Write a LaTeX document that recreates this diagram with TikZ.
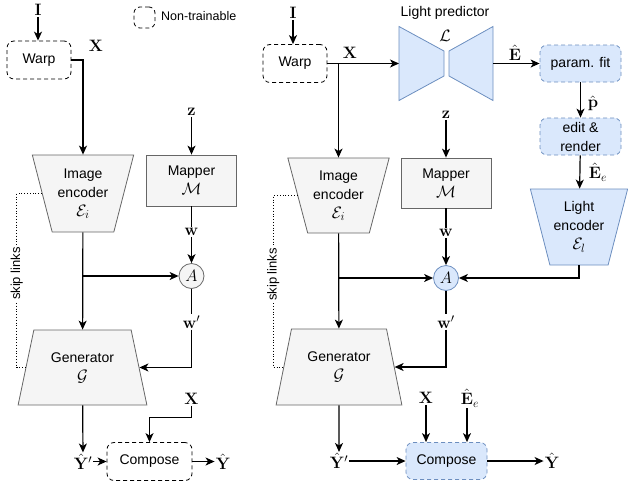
\RequirePackage{fix-cm}
\documentclass[tikz,border=0pt]{standalone}
\usepackage{amsmath, amssymb}
\usepackage[no-math]{fontspec}
\setmainfont{Liberation Sans}
\usepackage{xcolor}
\usepackage{tikz}
\usetikzlibrary{arrows.meta, shapes.geometric}
\DeclareMathSizes{14}{16.5}{12}{10}

\definecolor{grayfill}{HTML}{F5F5F5}
\definecolor{grayline}{HTML}{666666}
\definecolor{bluefill}{HTML}{DAE8FC}
\definecolor{blueline}{HTML}{6C8EBF}

\tikzset{
  lab/.style={font=\fontsize{14}{19}\selectfont, inner sep=1pt},
  fixbox/.style={lab, draw, dash pattern=on 4pt off 3pt, rounded corners=7pt, line width=0.8pt,
    minimum width=64pt, minimum height=38pt, align=center},
  learnbox/.style={fixbox, draw=blueline, fill=bluefill, minimum width=81pt, minimum height=37pt},
  mapbox/.style={lab, draw=grayline, fill=grayfill, line width=0.8pt,
    minimum width=90pt, minimum height=51pt, align=center},
  enctrap/.style={lab, trapezium, trapezium stretches=true, shape border rotate=180,
    trapezium angle=72, minimum width=102pt, minimum height=77pt,
    draw=grayline, fill=grayfill, line width=0.8pt, align=center},
  gentrap/.style={enctrap, shape border rotate=0, minimum width=129pt, minimum height=75pt},
  lpshape/.style={draw=blueline, fill=bluefill, line width=0.8pt},
  adapt/.style={lab, circle, draw=grayline, fill=grayfill, minimum size=25pt,
    inner sep=0pt, line width=0.8pt},
  wire/.style={line width=1.2pt},
  flow/.style={wire, ->},
  skiplink/.style={dotted, line width=0.8pt},
}

\begin{document}
\begin{tikzpicture}[x=1pt, y=-1pt, >={Stealth[length=9pt, width=8pt, inset=2.5pt]}]
    \useasboundingbox (0,0) rectangle (628,482);

    % 1. 左图: 节点
    \node[lab] (i1) at (38,10) {$\mathbf{I}$};
    \node[fixbox] (warp1) at (39,60) {Warp};
    \node[lab] (x1) at (96,46) {$\mathbf{X}$};
    \node[fixbox, minimum width=21pt, minimum height=21pt, rounded corners=6pt] (leg) at (144.5,17.5) {};
    \node[lab, font=\fontsize{12.5}{15}\selectfont, anchor=west] (legtext) at (160,16) {Non-trainable};
    \node[enctrap] (enc1) at (83,193.5) {Image\\encoder\\$\mathcal{E}_i$};
    \node[lab] (z1) at (191.5,112) {$\mathbf{z}$};
    \node[mapbox] (map1) at (191.5,180.5) {Mapper\\$\mathcal{M}$};
    \node[lab] (w1) at (191.5,232) {$\mathbf{w}$};
    \node[adapt] (a1) at (191.5,276) {$A$};
    \node[lab] (wp1) at (191.5,322) {$\mathbf{w}'$};
    \node[gentrap] (gen1) at (82.5,367.5) {Generator\\$\mathcal{G}$};
    \node[lab] (x2) at (191.5,399) {$\mathbf{X}$};
    \node[lab] (yp1) at (83,461.5) {$\hat{\mathbf{Y}}'$};
    \node[fixbox, minimum width=85pt] (comp1) at (149.5,461.5) {Compose};
    \node[lab] (y1) at (223,461.5) {$\hat{\mathbf{Y}}$};

    % 2. 左图: 连线
    \draw[flow] (i1) -- (i1 |- warp1.north);
    \draw[flow] (warp1.east) -| (enc1.north);
    \draw[flow] (z1) -- (map1);
    \draw[wire] (map1) -- (w1);
    \draw[flow] (w1) -- (a1);
    \draw[flow] (enc1) -- (gen1);
    \draw[flow] (enc1.south |- a1) -- (a1);
    \draw[wire] (a1) -- (wp1);
    \draw[flow] (wp1) |- (gen1.east);
    \draw[skiplink] (enc1.west) -- ++(-25,0) |- (gen1.west)
        node[pos=0.23, rotate=90, fill=white, font=\fontsize{13}{15}\selectfont, inner sep=1pt] {skip links};
    \draw[flow] (gen1) -- (yp1);
    \draw[flow] (yp1) -- (comp1);
    \draw[flow] (comp1) -- (y1);
    \draw[flow] (x2.south) -- ++(0,12) -| (comp1.north);

    % 3. 右图: 节点
    \node[lab] (i2) at (293,13) {$\mathbf{I}$};
    \node[fixbox] (warp2) at (295,63.5) {Warp};
    \node[lab] (x3) at (350,53) {$\mathbf{X}$};
    % light predictor (bowtie)
    \coordinate (lp) at (446,63.5);
    \draw[lpshape, shift={(lp)}] (-47,-37) -- (-2,-12.5) -- (-2,12.5) -- (-47,37) -- cycle;
    \draw[lpshape, shift={(lp)}] (47,-37) -- (3,-12.5) -- (3,12.5) -- (47,37) -- cycle;
    \coordinate (lpw) at (399,63.5);
    \coordinate (lpe) at (493,63.5);
    \node[lab] (lpname) at (445,13) {Light predictor};
    \node[lab] (lpsym) at (445,36) {$\mathcal{L}$};
    \node[lab] (e1) at (515,53) {$\hat{\mathbf{E}}$};
    \node[learnbox] (fit) at (580.5,63.5) {param. fit};
    \node[lab] (p1) at (593,103) {$\hat{\mathbf{p}}$};
    \node[learnbox] (render) at (580.5,136.5) {edit \&\\render};
    \node[lab] (ee1) at (598,172) {$\hat{\mathbf{E}}_e$};
    \node[enctrap, draw=blueline, fill=bluefill, minimum width=98pt, minimum height=76pt,
        trapezium angle=71.5] (lenc) at (579,227) {Light\\encoder\\$\mathcal{E}_l$};
    \node[enctrap, minimum height=75pt] (enc2) at (338.5,195.5) {Image\\encoder\\$\mathcal{E}_i$};
    \node[lab] (z2) at (446,115) {$\mathbf{z}$};
    \node[mapbox, minimum height=50pt] (map2) at (446,183) {Mapper\\$\mathcal{M}$};
    \node[lab] (w2) at (446,233) {$\mathbf{w}$};
    \node[adapt, draw=blueline, fill=bluefill] (a2) at (446,278) {$A$};
    \node[lab] (wp2) at (446,322) {$\mathbf{w}'$};
    \node[gentrap, minimum width=126pt, minimum height=76pt] (gen2) at (339,367) {Generator\\$\mathcal{G}$};
    \node[lab] (x4) at (426,398) {$\mathbf{X}$};
    \node[lab] (ee2) at (470,398) {$\hat{\mathbf{E}}_e$};
    \node[lab] (yp2) at (339,461) {$\hat{\mathbf{Y}}'$};
    \node[learnbox] (comp2) at (446.5,461) {Compose};
    \node[lab] (y2) at (552,461) {$\hat{\mathbf{Y}}$};

    % 4. 右图: 连线
    \draw[flow] (i2) -- (i2 |- warp2.north);
    \draw[flow] (warp2) -- (lpw);
    \draw[flow] (warp2.east -| enc2.north) -- (enc2.north);
    \draw[flow] (lpe) -- (fit);
    \draw[flow] (fit) -- (render);
    \draw[flow] (render) -- (lenc);
    \draw[flow] (lenc.south) |- (a2.east);
    \draw[flow] (z2) -- (map2);
    \draw[wire] (map2) -- (w2);
    \draw[flow] (w2) -- (a2);
    \draw[flow] (enc2) -- (gen2);
    \draw[flow] (enc2.south |- a2) -- (a2);
    \draw[wire] (a2) -- (wp2);
    \draw[flow] (wp2) |- (gen2.east);
    \draw[skiplink] (enc2.west) -- ++(-24,0) |- (gen2.west)
        node[pos=0.23, rotate=90, fill=white, font=\fontsize{13}{15}\selectfont, inner sep=1pt] {skip links};
    \draw[flow] (gen2) -- (yp2);
    \draw[flow] (yp2) -- (comp2);
    \draw[flow] (comp2) -- (y2);
    \draw[flow] (x4) -- (x4 |- comp2.north);
    \draw[flow] (ee2.south -| 467,0) -- (467,0 |- comp2.north);
\end{tikzpicture}
\end{document}
